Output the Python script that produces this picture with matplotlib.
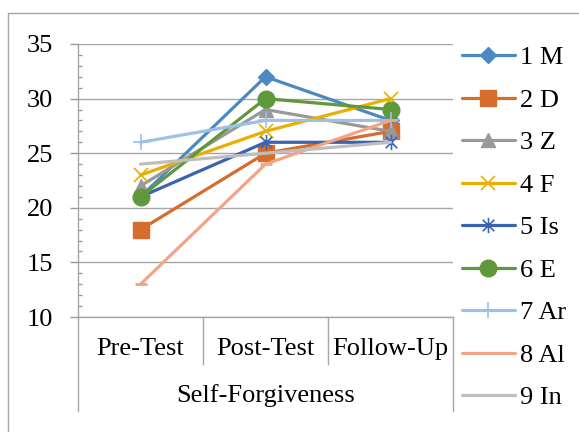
import matplotlib
matplotlib.use("Agg")
import matplotlib.pyplot as plt
from matplotlib.lines import Line2D
from matplotlib.patches import Rectangle
from matplotlib.path import Path
from matplotlib import transforms

plt.rcParams['font.family'] = ['Liberation Serif', 'DejaVu Serif']

categories = ["Pre-Test", "Post-Test", "Follow-Up"]
group_label = "Self-Forgiveness"
series_names = ["1 M", "2 D", "3 Z", "4 F", "5 Is", "6 E", "7 Ar", "8 Al", "9 In"]
m_vals  = [21, 32, 28]
d_vals  = [18, 25, 27]
z_vals  = [22, 29, 27]
f_vals  = [23, 27, 30]
is_vals = [21, 26, 26]
e_vals  = [21, 30, 29]
ar_vals = [26, 28, 28]
al_vals = [13, 24, 28]
in_vals = [24, 25, 26]
series_values = [m_vals, d_vals, z_vals, f_vals, is_vals, e_vals, ar_vals, al_vals, in_vals]
yticks = [10, 15, 20, 25, 30, 35]

colors = ["#4A89C2", "#D56E2C", "#999999", "#E8AE00", "#3A64B0",
          "#5F993C", "#9CC0E6", "#F2A486", "#BEBEBE"]
asterisk = Path([(0, -1), (0, 1), (-0.75, -0.75), (0.75, 0.75), (-0.75, 0.75), (0.75, -0.75)],
                [Path.MOVETO, Path.LINETO, Path.MOVETO, Path.LINETO, Path.MOVETO, Path.LINETO])
markers = ["D", "s", "^", "x", asterisk, "o", "+", "_", "None"]
msizes = [8.5, 11, 10, 10, 11, 12, 12, 8, 0]
mews = [1, 1, 1, 1.2, 1.2, 1, 1.2, 2, 1]
FS = 19

W, H = 579, 432
fig = plt.figure(figsize=(W / 100, H / 100), dpi=100)
ax = fig.add_axes([78 / W, 1 - 317 / H, (453 - 78) / W, (317 - 44) / H])

x = list(range(len(categories)))
handles = []
for name, vals, c, mk, ms, mew in zip(series_names, series_values, colors, markers, msizes, mews):
    h, = ax.plot(x, vals, color=c, lw=2.3, marker=mk, markersize=ms,
                 markerfacecolor=c, markeredgecolor=c, markeredgewidth=mew,
                 label=name, solid_capstyle='round', clip_on=False)
    handles.append(h)

ax.set_xlim(-0.5, 2.5)
ax.set_ylim(10, 35)
ax.set_yticks(yticks)
ax.set_yticklabels([str(t) for t in yticks], fontsize=FS)
ax.set_yticks(range(10, 36), minor=True)
ax.tick_params(axis='y', which='major', length=6, width=1, color='#999999', direction='out', pad=12)
ax.tick_params(axis='y', which='minor', length=3, width=1, color='#999999', direction='in')
ax.set_xticks([])
ax.grid(axis='y', which='major', color='#A6A6A6', lw=1)
ax.set_axisbelow(True)
for s in ['top', 'right']:
    ax.spines[s].set_visible(False)
for s in ['left', 'bottom']:
    ax.spines[s].set_color('#A6A6A6')
    ax.spines[s].set_linewidth(1)

# category bracket
tr = transforms.blended_transform_factory(ax.transData, fig.transFigure)
def fy(py):
    return 1 - py / H
for xb, bottom in [(-0.5, 411), (0.5, 364), (1.5, 364), (2.5, 411)]:
    fig.add_artist(Line2D([xb, xb], [fy(317), fy(bottom)], transform=tr, color='#A6A6A6', lw=1))
for xi, cat in zip(x, categories):
    fig.text(xi, fy(349), cat, transform=tr, ha='center', va='center', fontsize=FS)
fig.text(1, fy(396), group_label, transform=tr, ha='center', va='center', fontsize=FS)

leg = fig.legend(handles=handles, loc='upper left', bbox_to_anchor=(462 / W, 1 - 46 / H),
                 frameon=False, fontsize=FS, handlelength=2.0, handletextpad=0.2,
                 labelspacing=0.72, borderpad=0, borderaxespad=0)

fig.add_artist(Rectangle((8 / W, -0.1), 2, 1.1 - 13 / H, transform=fig.transFigure,
                         fill=False, ec='#A6A6A6', lw=1))

fig.savefig("out.png", dpi=100)
